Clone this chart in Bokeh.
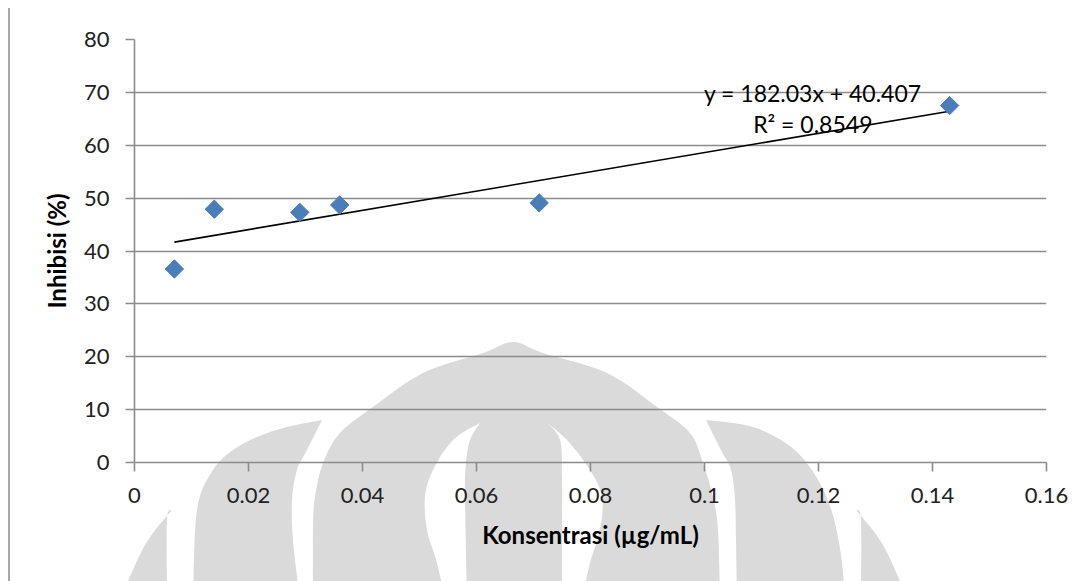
from urllib.parse import quote

import numpy as np
from bokeh.embed import file_html
from bokeh.models import ColumnDataSource, FixedTicker, Label, Range1d
from bokeh.plotting import figure
from bokeh.resources import INLINE

# Inhibition measured at each concentration
konsentrasi = [0.007, 0.014, 0.029, 0.036, 0.071, 0.143]
inhibisi = [36.6, 47.9, 47.3, 48.7, 49.1, 67.5]

# Linear trendline fitted to the points
slope = 182.03
intercept = 40.407
r_squared = 0.8549

x_ticks = [0, 0.02, 0.04, 0.06, 0.08, 0.1, 0.12, 0.14, 0.16]
x_tick_labels = ["0", "0.02", "0.04", "0.06", "0.08", "0.1", "0.12", "0.14", "0.16"]
y_ticks = [0, 10, 20, 30, 40, 50, 60, 70, 80]

FONT = "Lato"
GRID = "#8c8c8c"
TEXT = "#222222"
BLUE = "#4a7ebb"


def smooth(pts):
    """Catmull-Rom curve through pts, as SVG cubic segments (no initial move)."""
    out = []
    n = len(pts)
    for i in range(n - 1):
        p0 = pts[i - 1] if i > 0 else pts[i]
        p1 = pts[i]
        p2 = pts[i + 1]
        p3 = pts[i + 2] if i + 2 < n else pts[i + 1]
        c1 = (p1[0] + (p2[0] - p0[0]) / 6, p1[1] + (p2[1] - p0[1]) / 6)
        c2 = (p2[0] - (p3[0] - p1[0]) / 6, p2[1] - (p3[1] - p1[1]) / 6)
        out.append(f"C {c1[0]:.1f},{c1[1]:.1f} {c2[0]:.1f},{c2[1]:.1f} {p2[0]},{p2[1]}")
    return " ".join(out)


def shape(curves, fill):
    """Closed path made of smooth curves joined by straight segments."""
    d = f"M {curves[0][0][0]},{curves[0][0][1]} "
    for k, c in enumerate(curves):
        if k > 0:
            d += f"L {c[0][0]},{c[0][1]} "
        d += smooth(c) + " "
    return f'<path d="{d}Z" fill="{fill}"/>'


def watermark_svg(w, h):
    """Pale institutional logo used as a page watermark, plus the page margin rule."""
    gray = "#dadada"
    white = "#ffffff"
    cx = 514

    def mirror(pts):
        return [(2 * cx - x, y) for x, y in pts]

    dome = [(313, 600), (313, 530), (315, 497), (323, 463), (340, 433), (373, 407),
            (423, 373), (483, 353), (513, 342), (543, 353), (607, 373), (657, 407),
            (690, 433), (703, 463), (713, 497), (718, 530), (720, 600)]
    crescent_l = [[(480, 423), (453, 440), (433, 470), (425, 497), (427, 530),
                   (437, 563), (445, 600)],
                  [(467, 600), (465, 497), (466, 463), (470, 440), (480, 423)]]
    crescent_r = [[(547, 423), (567, 440), (590, 470), (602, 497), (600, 530),
                   (590, 563), (582, 600)],
                  [(562, 600), (562, 480), (560, 440), (547, 423)]]
    leaf_l = [[(322, 420), (287, 427), (257, 437), (233, 450), (213, 470),
               (197, 510), (193, 600)],
              [(300, 600), (293, 540), (292, 500), (297, 470), (307, 450), (322, 420)]]
    leaf_r = [[(706, 420), (721, 450), (731, 470), (735, 500), (736, 540), (737, 600)],
              [(845, 600), (841, 555), (832, 512), (817, 478), (797, 452),
               (772, 435), (745, 425), (706, 420)]]
    sliver_l = [[(172, 510), (145, 545), (120, 600)], [(167, 600), (167, 520), (172, 510)]]
    sliver_r = [mirror(c)[::-1] for c in sliver_l[::-1]]

    parts = [
        shape([dome], gray),
        shape(crescent_l, white),
        shape(crescent_r, white),
        shape(leaf_l, gray),
        shape(leaf_r, gray),
        shape(sliver_l, gray),
        shape(sliver_r, gray),
        '<line x1="9" y1="8" x2="9" y2="600" stroke="#a6a6a6" stroke-width="2"/>',
    ]
    return (f'<svg xmlns="http://www.w3.org/2000/svg" width="{w}" height="{h}" '
            f'viewBox="0 0 {w} {h}">' + "".join(parts) + "</svg>")


W, H = 1090, 581

p = figure(
    width=W, height=H,
    x_range=Range1d(0, 0.16), y_range=Range1d(0, 80),
    output_backend="svg", toolbar_location=None,
    min_border_left=134, min_border_right=44,
    min_border_top=39, min_border_bottom=119,
    background_fill_color=None, border_fill_color=None,
    outline_line_color=None,
)

p.styles = {
    "background-image": f'url("data:image/svg+xml,{quote(watermark_svg(W, H))}")',
    "background-repeat": "no-repeat",
    "background-size": f"{W}px {H}px",
}

# grid
p.xgrid.visible = False
p.ygrid.ticker = FixedTicker(ticks=y_ticks)
p.ygrid.grid_line_color = GRID
p.ygrid.grid_line_width = 1.6

# axes
for ax in (p.xaxis[0], p.yaxis[0]):
    ax.axis_line_color = GRID
    ax.axis_line_width = 1.6
    ax.major_tick_line_color = GRID
    ax.major_tick_line_width = 1.6
    ax.major_tick_out = 9
    ax.major_tick_in = 0
    ax.minor_tick_out = 0
    ax.minor_tick_in = 0
    ax.major_label_text_font = FONT
    ax.major_label_text_font_size = "22px"
    ax.major_label_text_color = TEXT
    ax.axis_label_text_font = FONT
    ax.axis_label_text_font_style = "bold"
    ax.axis_label_text_font_size = "24px"
    ax.axis_label_text_color = "#000000"

p.xaxis.ticker = FixedTicker(ticks=x_ticks)
p.xaxis.major_label_overrides = {t: s for t, s in zip(x_ticks, x_tick_labels)}
p.xaxis.major_label_standoff = 16
p.xaxis.axis_label = "Konsentrasi (µg/mL)"
p.xaxis.axis_label_standoff = 14

p.yaxis.ticker = FixedTicker(ticks=y_ticks)
p.yaxis.major_label_standoff = 16
p.yaxis.axis_label = "Inhibisi (%)"
p.yaxis.axis_label_standoff = 10

# trendline from the fitted equation
x_fit = np.array([min(konsentrasi), max(konsentrasi)])
y_fit = slope * x_fit + intercept
p.line(x_fit, y_fit, line_color="#000000", line_width=1.6)

# measured points
src = ColumnDataSource(dict(x=konsentrasi, y=inhibisi))
p.scatter("x", "y", source=src, marker="square", size=13, angle=np.pi / 4,
          fill_color=BLUE, line_color=BLUE)

# equation and coefficient of determination
eq_x = 0.119
p.add_layout(Label(x=eq_x, y=69.8, text=f"y = {slope}x + {intercept}",
                   text_align="center", text_baseline="middle",
                   text_font=FONT, text_font_size="23px", text_color="#000000"))
p.add_layout(Label(x=eq_x, y=64.0, text=f"R² = {r_squared}",
                   text_align="center", text_baseline="middle",
                   text_font=FONT, text_font_size="23px", text_color="#000000"))

open("out.html", "w").write(file_html(p, INLINE))
